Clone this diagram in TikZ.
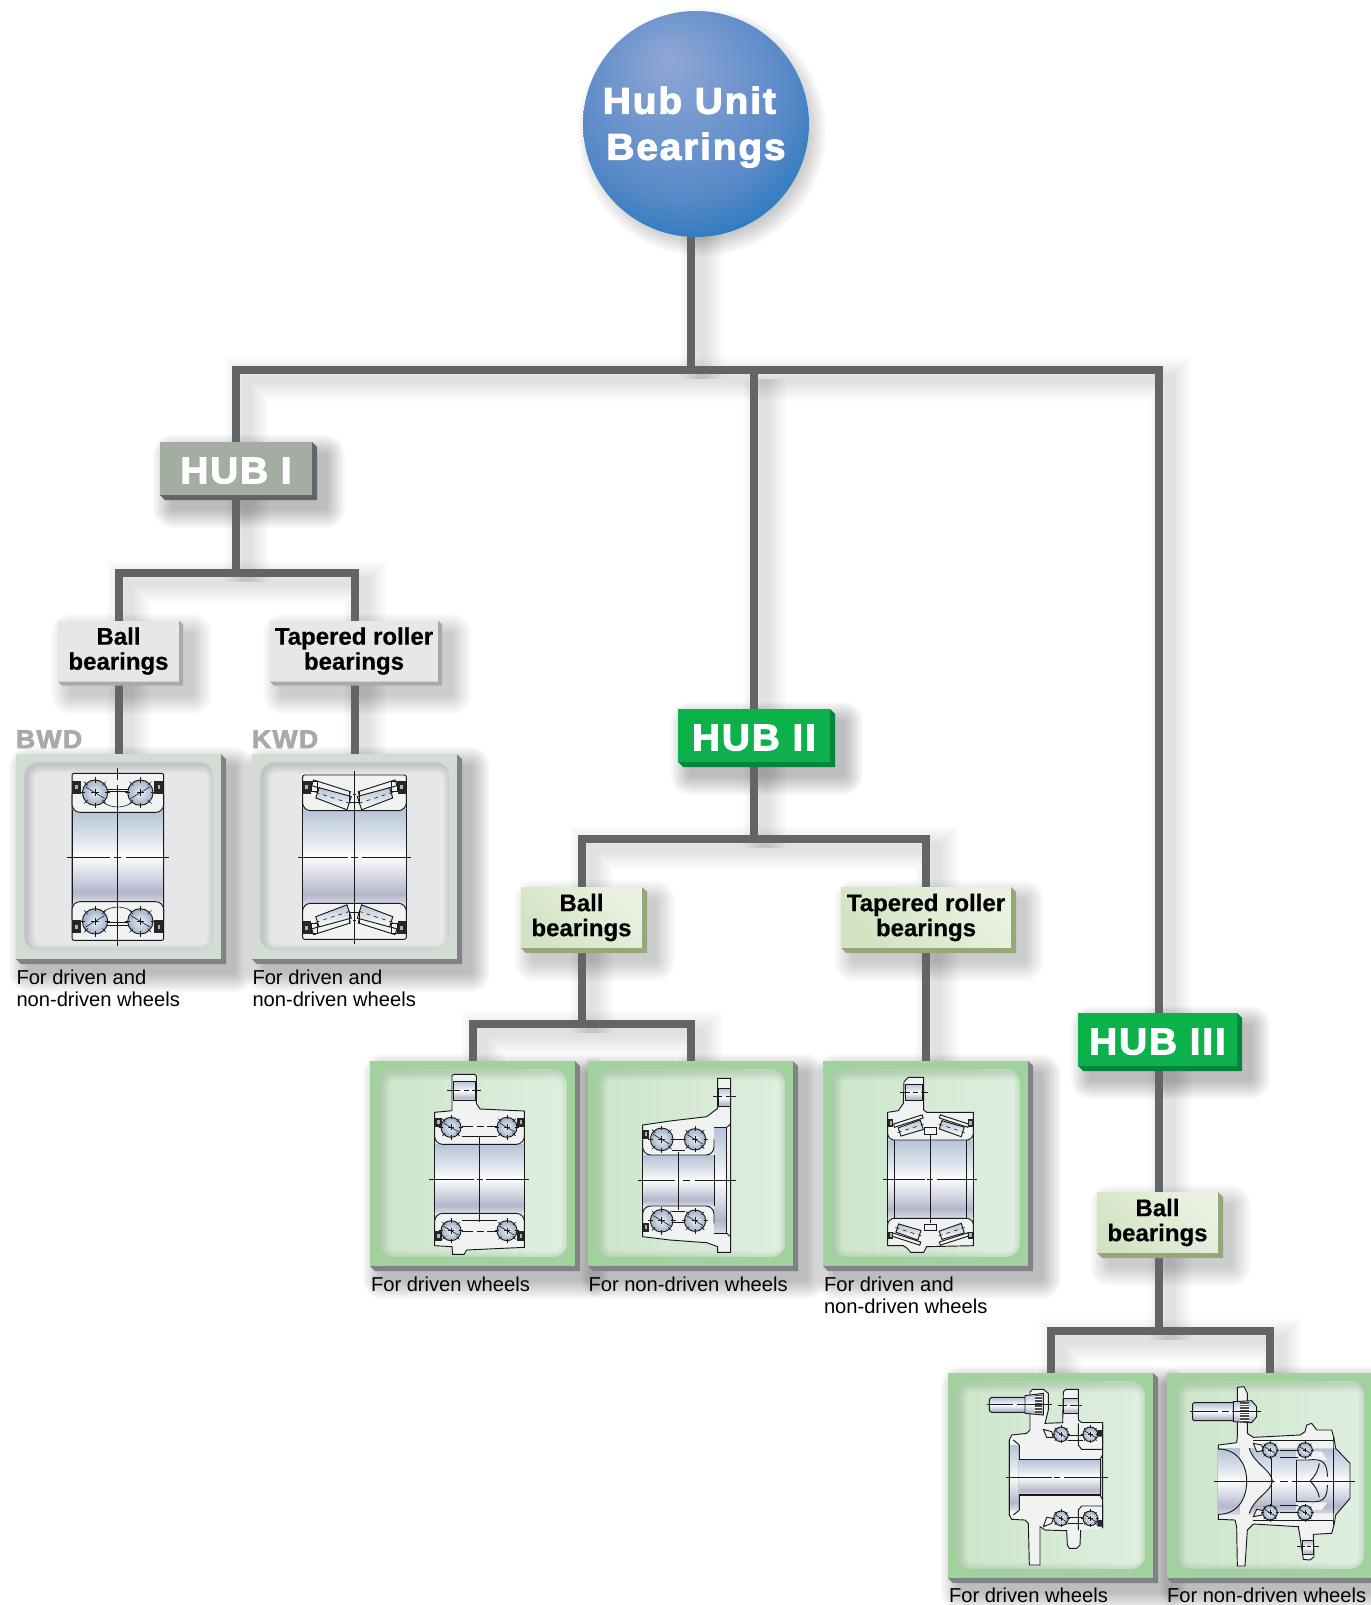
\documentclass[tikz,border=0pt]{standalone}
\usepackage{fontspec}
\setmainfont{Liberation Sans}
\newfontfamily\heavyfont[LetterSpace=5,BoldFeatures={FakeBold=2.8,FakeStretch=1.04}]{Liberation Sans}
\newfontfamily\lblfont[BoldFeatures={FakeBold=0.5}]{Liberation Sans}
\usetikzlibrary{calc}
\definecolor{connc}{HTML}{636466}
\definecolor{hubgray}{HTML}{A3ADA2}
\definecolor{hubgreen}{HTML}{0DB14B}
\definecolor{hubgreend}{HTML}{00863D}
\definecolor{lblgray}{HTML}{E6E7E9}
\definecolor{lblgrayd}{HTML}{A7A9AC}
\definecolor{lblgreend}{HTML}{94A878}
\definecolor{pgrayf}{HTML}{D1DDD3}
\definecolor{pgreenf}{HTML}{A1D29E}
\definecolor{pdepth}{HTML}{808285}
\definecolor{bodyc}{HTML}{F1F2F2}
\definecolor{ballc}{HTML}{9FB0C8}
\definecolor{ballh}{HTML}{EAF0F5}
\definecolor{bA}{HTML}{DDDDE6}\definecolor{bB}{HTML}{B2B6CB}\definecolor{bC}{HTML}{D6D9E4}
\definecolor{bD}{HTML}{FFFFFF}\definecolor{bE}{HTML}{F4F5F8}\definecolor{bF}{HTML}{DDE3EC}\definecolor{bG}{HTML}{B6C4D8}
\definecolor{rA}{HTML}{8FA7D6}\definecolor{rB}{HTML}{5889C8}\definecolor{rC}{HTML}{1B75BC}
\pgfdeclareverticalshading{borefill}{100bp}{color(0bp)=(bA); color(25bp)=(bA); color(31bp)=(bB); color(40bp)=(bC); color(51bp)=(bD); color(53bp)=(bE); color(60bp)=(bF); color(75bp)=(bG); color(100bp)=(bG)}
\pgfdeclareradialshading{rootfill}{\pgfpoint{-6.4bp}{14.8bp}}{color(0bp)=(rA); color(24bp)=(rB); color(35bp)=(rC); color(50bp)=(rC)}
\pgfdeclarelayer{shadowlayer}
\pgfdeclarelayer{connlayer}
\pgfsetlayers{shadowlayer,connlayer,main}
\def\px{0.75pt}
\definecolor{D2}{HTML}{D2E3C3}\definecolor{E2}{HTML}{EAF2E2}
\tikzset{
 conn/.style={draw=connc,line width=8*\px},
 hubbox/.style={rectangle,inner sep=0pt,outer sep=0pt,text=white,font=\heavyfont\bfseries\fontsize{28}{28}\selectfont,minimum height=53*\px,execute at begin node={\rule{0pt}{22.5pt}}},
 hubI/.style={hubbox,fill=hubgray,minimum width=152*\px},
 hubG/.style={hubbox,fill=hubgreen},
 lbl/.style={rectangle,inner sep=0pt,outer sep=0pt,align=center,text=black,minimum height=61*\px,font=\lblfont\bfseries\fontsize{18}{18.75}\selectfont,execute at begin node={\rule{0pt}{16pt}}},
 lblG/.style={lbl,fill=lblgray},
 lblV/.style={lbl,shade,shading=axis,bottom color=D2,top color=E2,shading angle=-45},
 panelbox/.style={rectangle,inner sep=0pt,outer sep=0pt,minimum width=205*\px,minimum height=205*\px},
 wheeltxt/.style={anchor=north west,inner sep=0pt,outer sep=0pt,align=left,text=black,font=\fontsize{15.1}{16.5}\selectfont},
 codetxt/.style={anchor=base west,inner sep=0pt,outer sep=0pt,text=lblgrayd,font=\heavyfont\bfseries\fontsize{19.2}{20}\selectfont},
 zoomed/.style 2 args={shift={(#1,#2)},x=.25pt,y=-.25pt},
 inkline/.style={draw=black!90,line width=.7pt},
 inkthin/.style={draw=black!90,line width=.45pt},
 inkthick/.style={draw=black!90,line width=1.1pt},
}
\newcommand\depth[3]{% name, size, colour
 \fill[#3] (#1.north east)--([shift={(#2,#2)}]#1.north east)--([shift={(#2,#2)}]#1.south east)--([shift={(#2,#2)}]#1.south west)--(#1.south west)--(#1.south east)--cycle;}
\newcommand\nodeshadow[2]{% name, opacity
 \begin{pgfonlayer}{shadowlayer}
 \foreach \i in {1,...,10}{
  \fill[black,opacity=#2,rounded corners=\i*1.5pt] ([shift={({13-\i*2},{13+\i*2})}]#1.south west) rectangle ([shift={({13+\i*2},{13-\i*2})}]#1.north east);}
 \end{pgfonlayer}}
\newcommand\conn[1]{%
 \begin{pgfonlayer}{shadowlayer}
 \foreach \w in {8,12,...,44}{
  \draw[black,opacity=.011,line width=\w*\px,transform canvas={xshift=8pt,yshift=-7pt}] #1;}
 \end{pgfonlayer}
 \begin{pgfonlayer}{connlayer}\draw[conn] #1;\end{pgfonlayer}}
\newcommand\panel[5]{% name,x,y,face,kind
 \node[panelbox,fill=#4] (#1) at (#2,#3) {};
 \depth{#1}{5}{pdepth}
 \nodeshadow{#1}{.026}
 \begin{scope}
  \clip[rounded corners=10.5pt] ([shift={(8,8)}]#1.north west) rectangle ([shift={(-8,-9)}]#1.south east);
  #5
  \foreach \w in {2,4,...,18}{
   \draw[rimc,opacity=.016,line width=\w*\px,rounded corners=10.5pt] ([shift={(10,10)}]#1.north west) rectangle ([shift={(-5,-6)}]#1.south east);}
 \end{scope}}
\newcommand\ball[3]{%
 \shade[inner color=ballh,outer color=ballc] (#1,#2) circle (#3);
 \draw[inkline] (#1,#2) circle (#3);
 \foreach \a in {0,45,...,315}{\draw[inkthin] (#1,#2) ++(\a:{#3*.8}) -- ++(\a:{#3*.42});}
 \draw[inkthin] (#1,#2) ++({-#3*.3},0) -- ++({#3*.6},0);
 \draw[inkthin] (#1,#2) ++(0,{-#3*.3}) -- ++(0,{#3*.6});
 \draw[inkthin] (#1,#2) ++({-#3*.75},{-#3*.45}) -- ++({#3*1.5},{#3*.9});}
\newcommand\sealblk[4]{%
 \fill[black!85] (#1,#2) rectangle (#3,#4);
 \fill[white!70!black] ({(#1+#3)/2-4},{(#2+#4)/2-7}) rectangle ({(#1+#3)/2+4},{(#2+#4)/2+5});}
\newcommand\roller[6]{%
 \begin{scope}[shift={(#1,#2)},rotate=#3]
 \shadedraw[inkline,top color=bG,bottom color=white] ({-#4/2},{-#5/2})--({#4/2},{-#6/2})--({#4/2},{#6/2})--({-#4/2},{#5/2})--cycle;
 \draw[inkthin,dashed] ({-#4/2-6},0)--({#4/2+6},0);
 \end{scope}}
\newcommand\fourway[1]{\foreach \sx/\sy in {1/1,-1/1,1/-1,-1/-1}{\begin{scope}[xscale=\sx,yscale=\sy]#1\end{scope}}}
\newcommand\bwdq{%
 \draw[inkthin] (-32,-204)--(0,-204) (-32,-197)--(0,-197);
 \draw[inkthin] (-48,-168)..controls (-35,-155) and (-15,-150)..(0,-150);
 \ball{-68}{-193}{38}
 \sealblk{-137}{-228}{-110}{-190}
}
\newcommand\kwdq{%
 \draw[inkline,fill=bodyc] (-122,-232)--(-12,-197)--(-16,-180)--(-128,-215)--cycle;
 \roller{-63}{-178}{-18}{100}{32}{42}
 \draw[inkline] (-130,-228) rectangle (-112,-198);
 \sealblk{-155}{-230}{-130}{-190}
 \draw[inkline] (-14,-197)--(-14,-165)--(0,-165);
 \draw[inkthin] (-4,-190)--(0,-190);
}
\begin{document}
\begin{tikzpicture}[x=\px,y=-\px]
\useasboundingbox (0,0) rectangle (1370,1605);
\begin{pgfonlayer}{shadowlayer}\fill[white] (0,0) rectangle (1370,1605);\end{pgfonlayer}

% ---------- root
\node[circle,inner sep=0pt,outer sep=0pt,minimum size=226*\px,shade,shading=rootfill,align=center,text=white,font=\heavyfont\bfseries\fontsize{28}{34.5}\selectfont] (root) at (696,124) {\rule{0pt}{25pt}\hspace*{-10pt}Hub Unit\\Bearings};
\begin{pgfonlayer}{shadowlayer}
\foreach \i in {1,...,10}{\fill[black,opacity=.026] ([shift={(6,8)}]root.center) circle ({98+\i*2.6});}
\end{pgfonlayer}

% ---------- hub boxes
\node[hubI] (hub1) at (236,468.5) {HUB I};
\depth{hub1}{5}{connc}\nodeshadow{hub1}{.026}
\node[hubG,minimum width=152*\px] (hub2) at (754,735.5) {HUB II};
\depth{hub2}{5}{hubgreend}\nodeshadow{hub2}{.026}
\node[hubG,minimum width=159*\px] (hub3) at (1157.5,1039.5) {HUB III};
\depth{hub3}{5}{hubgreend}\nodeshadow{hub3}{.026}

% ---------- label boxes
\node[lblG,minimum width=121*\px] (ball1) at (118.5,651) {Ball\\bearings};
\depth{ball1}{4}{lblgrayd}\nodeshadow{ball1}{.02}
\node[lblG,minimum width=168*\px] (tap1) at (354,651) {Tapered roller\\bearings};
\depth{tap1}{4}{lblgrayd}\nodeshadow{tap1}{.02}
\node[lblV,minimum width=121*\px] (ball2) at (581.5,917.5) {Ball\\bearings};
\depth{ball2}{5}{lblgreend}\nodeshadow{ball2}{.02}
\node[lblV,minimum width=170*\px] (tap2) at (926,917.5) {Tapered roller\\bearings};
\depth{tap2}{5}{lblgreend}\nodeshadow{tap2}{.02}
\node[lblV,minimum width=121*\px] (ball3) at (1157.5,1222.5) {Ball\\bearings};
\depth{ball3}{5}{lblgreend}\nodeshadow{ball3}{.02}

% ---------- panels: gray
\colorlet{rimc}{black}
\panel{pbwd}{118.5}{856.5}{pgrayf}{\fill[lblgray] (pbwd.south west) rectangle (pbwd.north east);}
\panel{pkwd}{354.5}{856.5}{pgrayf}{\fill[lblgray] (pkwd.south west) rectangle (pkwd.north east);}
% ---------- panels: green
\colorlet{rimc}{green!30!black}
\newcommand\grn[1]{\shade[left color=C1,right color=C2] (#1.south west) rectangle (#1.north east);}
\definecolor{C1}{HTML}{CBE5C9}\definecolor{C2}{HTML}{E0EFE1}
\panel{pdr2}{472.5}{1163.5}{pgreenf}{\grn{pdr2}}
\panel{pnd2}{690.5}{1163.5}{pgreenf}{\grn{pnd2}}
\panel{ptp2}{925.5}{1163.5}{pgreenf}{\grn{ptp2}}
\panel{pdr3}{1050.5}{1475.5}{pgreenf}{\grn{pdr3}}
\panel{pnd3}{1269.5}{1475.5}{pgreenf}{\grn{pnd3}}

% ---------- connectors
\coordinate (j0) at (691,370);
\coordinate (jr) at (1159,370);
\coordinate (jh1) at (236,573);
\coordinate (jh2) at (754,839);
\coordinate (jb2) at (581,1024);
\coordinate (jb3) at (1159,1331);
\conn{(j0 |- root.center) -- (j0)}
\conn{(hub1.center) -- (hub1.center |- j0) -- (jr) -- (jr |- hub3.center)}
\conn{(hub2.center |- j0) -- (hub2.center)}
\conn{(hub1.center) -- (jh1)}
\conn{(pbwd.center |- ball1.center) -- (pbwd.center |- jh1) -- (pkwd.center |- jh1) -- (pkwd.center |- tap1.center)}
\conn{(ball1.center -| pbwd.center) -- (pbwd.center)}
\conn{(tap1.center -| pkwd.center) -- (pkwd.center)}
\conn{(hub2.center) -- (jh2)}
\conn{(ball2.center) -- (ball2.center |- jh2) -- (tap2.center |- jh2) -- (tap2.center)}
\conn{(ball2.center) -- (ball2.center |- jb2)}
\conn{(pdr2.center) -- (pdr2.center |- jb2) -- (pnd2.center |- jb2) -- (pnd2.center)}
\conn{(tap2.center) -- (tap2.center |- ptp2.center)}
\conn{(jr |- hub3.center) -- (jr |- ball3.center)}
\conn{(jr |- ball3.center) -- (jb3)}
\conn{(pdr3.center) -- (pdr3.center |- jb3) -- (pnd3.center |- jb3) -- (pnd3.center)}

% ---------- texts
\node[codetxt] (tbwd) at (16,748) {BWD};
\node[codetxt] (tkwd) at (252,748) {KWD};
\node[wheeltxt] (w1) at (16.5,970) {For driven and\\non-driven wheels};
\node[wheeltxt] (w2) at (252.5,970) {For driven and\\non-driven wheels};
\node[wheeltxt] (w3) at (371,1277) {For driven wheels};
\node[wheeltxt] (w4) at (588.5,1277) {For non-driven wheels};
\node[wheeltxt] (w5) at (824,1277) {For driven and\\non-driven wheels};
\node[wheeltxt] (w6) at (949,1588) {For driven wheels};
\node[wheeltxt] (w7) at (1167,1588) {For non-driven wheels};

% ---------- BWD section
\begin{scope}[zoomed={117.7}{857}]
 \draw[inkline,fill=bodyc,rounded corners=1.5pt] (-137,-251) rectangle (138,250);
 \shade[shading=borefill] (-137,-140) rectangle (138,140);
 \draw[inkline] (-137,-140)--(-137,140) (138,-140)--(138,140);
 \draw[inkline,fill=bodyc,rounded corners=6pt] (-137,-190)--(-137,-134)--(138,-134)--(138,-190);
 \draw[inkline,fill=bodyc,rounded corners=6pt] (-137,190)--(-137,134)--(138,134)--(138,190);
 \fourway{\bwdq}
 \draw[inkline] (0,-266)--(0,-230) (0,-215)--(0,266);
 \draw[inkline] (-153,0)--(-23,0) (-11,0)--(9,0) (25,0)--(154,0);
\end{scope}
% ---------- KWD section
\begin{scope}[zoomed={354.3}{857.3}]
 \draw[inkline,fill=bodyc,rounded corners=1.5pt] (-155,-247) rectangle (156,246);
 \shade[shading=borefill] (-155,-145) rectangle (156,145);
 \draw[inkline] (-155,-145)--(-155,145) (156,-145)--(156,145);
 \draw[inkline,fill=bodyc,rounded corners=6pt] (-155,-190)--(-155,-140)--(156,-140)--(156,-190);
 \draw[inkline,fill=bodyc,rounded corners=6pt] (-155,190)--(-155,138)--(156,138)--(156,190);
 \fourway{\kwdq}
 \draw[inkline] (0,-260)--(0,260);
 \draw[inkline] (-168,0)--(-20,0) (-10,0)--(10,0) (22,0)--(170,0);
\end{scope}

% ---------- HUB II ball, driven
\begin{scope}[zoomed={360}{1050}]
 \draw[inkline,fill=bodyc] (224,187)--(276,182)--(276,78)--(281,73)--(344,73)--(349,78)--(349,160)--(360,177)--(493,183)--(493,592)--(320,600)--(312,613)--(278,613)--(276,590)--(224,587)--cycle;
 \shade[shading=borefill] (224,283) rectangle (493,490);
 \draw[inkline] (224,283)--(224,490) (493,283)--(493,490);
 \draw[inkline,fill=bodyc,rounded corners=6pt] (224,258)--(224,283)--(493,283)--(493,258);
 \draw[inkline,fill=bodyc,rounded corners=6pt] (224,515)--(224,490)--(493,490)--(493,515);
 \shadedraw[inkline,shading=borefill] (279,95) rectangle (347,150);
 \draw[inkline] (262,122)--(300,122) (312,122)--(326,122) (335,122)--(362,122);
 \draw[inkline] (305,228)--(340,228) (350,228)--(372,228) (382,228)--(410,228);
 \draw[inkline] (305,545)--(340,545) (350,545)--(372,545) (382,545)--(410,545);
 \draw[inkline] (305,260)--(410,260) (305,512)--(410,512);
 \sealblk{224}{203}{245}{232}\sealblk{472}{203}{493}{232}
 \sealblk{224}{543}{245}{572}\sealblk{472}{543}{493}{572}
 \ball{273}{232}{30}\ball{441}{232}{30}\ball{273}{542}{30}\ball{441}{542}{30}
 \draw[inkline] (358,262)--(358,515);
 \draw[inkline] (208,387)--(342,387) (350,387)--(368,387) (378,387)--(507,387);
\end{scope}

% ---------- HUB II ball, non-driven
\begin{scope}[zoomed={360}{1050}]
 \draw[inkline,fill=bodyc] (848,225)--(930,213)--(1040,200)--(1073,175)--(1073,85)--(1112,85)--(1112,607)--(1073,607)--(1073,590)--(1040,578)--(930,570)--(848,560)--cycle;
 \shade[shading=borefill] (1062,232) rectangle (1100,550);
 \draw[inkline] (1062,232)--(1100,232)--(1100,550)--(1062,550);
 \draw[inkline] (1100,232)--(1112,222) (1100,550)--(1112,560);
 \shade[shading=borefill] (848,315) rectangle (1062,468);
 \draw[inkline] (848,315)--(848,468) (1062,315)--(1062,468);
 \draw[inkline,fill=bodyc,rounded corners=6pt] (848,268)--(848,315)--(1062,315)--(1062,268);
 \draw[inkline,fill=bodyc,rounded corners=6pt] (848,515)--(848,468)--(1062,468)--(1062,520);
 \shadedraw[inkline,shading=borefill] (1076,115) rectangle (1110,170);
 \draw[inkline] (1060,140)--(1085,140) (1098,140)--(1128,140);
 \draw[inkline] (935,268)--(975,268) (935,300)--(975,300) (935,484)--(975,484) (935,516)--(975,516);
 \sealblk{848}{240}{868}{268}\sealblk{848}{518}{868}{546}
 \ball{905}{268}{34}\ball{1005}{268}{32}\ball{905}{512}{34}\ball{1005}{512}{32}
 \draw[inkline] (955,305)--(955,480);
 \draw[inkline] (833,392)--(945,392) (968,392)--(990,392) (1005,392)--(1128,392);
\end{scope}

% ---------- HUB II taper
\begin{scope}[zoomed={820}{1060}]
 \draw[inkline,fill=bodyc] (203,157)--(235,152)--(250,130)--(252,65)--(265,52)--(311,52)--(311,150)--(320,157)--(460,157)--(460,557)--(320,560)--(311,577)--(272,577)--(262,565)--(250,557)--(203,557)--cycle;
 \shade[shading=borefill] (203,240) rectangle (460,475);
 \draw[inkline] (203,240)--(203,475) (460,240)--(460,475) (222,240)--(222,475) (440,240)--(440,475);
 \draw[inkline,fill=bodyc,rounded corners=5pt] (203,215)--(203,240)--(460,240)--(460,215);
 \draw[inkline,fill=bodyc,rounded corners=5pt] (203,500)--(203,475)--(460,475)--(460,500);
 \shadedraw[inkline,shading=borefill] (255,72) rectangle (308,122);
 \draw[inkline] (240,98)--(270,98) (278,98)--(295,98) (303,98)--(325,98);
 \draw[inkline,fill=bodyc] (312,203) rectangle (350,222) (312,492) rectangle (350,510);
 \foreach \rx/\ry/\ra in {272/205/-18,395/205/18,265/515/18,395/515/-18}{
  \draw[inkline,fill=bodyc] (\rx,\ry) ++(\ra:-45) ++({90+\ra}:{\ry<300?-18:18}) -- ++(\ra:90) -- ++({90+\ra}:{\ry<300?-10:10}) -- ++(\ra:-90) -- cycle;
  \roller{\rx}{\ry}{\ifdim\ra pt<0pt 18\else -18\fi}{70}{26}{30}
 }
 \sealblk{205}{178}{220}{200}\sealblk{443}{178}{458}{200}
 \sealblk{205}{515}{220}{538}\sealblk{443}{515}{458}{538}
 \draw[inkline] (332,225)--(332,490);
 \draw[inkline] (190,357)--(315,357) (322,357)--(340,357) (352,357)--(472,357);
\end{scope}

% ---------- HUB III driven
\begin{scope}[zoomed={980}{1380}]
 \draw[inkline,fill=bodyc] (88,180)--(95,165)--(140,160)--(150,150)--(150,36)--(158,28)--(190,28)--(205,40)--(205,90)--(195,130)--(248,128)--(250,35)--(258,28)--(295,28)--(295,120)--(305,128)--(368,128)--(368,440)--(302,445)--(300,495)--(290,505)--(268,505)--(262,495)--(260,452)--(195,450)--(180,440)--(180,555)--(148,555)--(145,430)--(135,420)--(95,418)--(88,405)--cycle;
 \shade[shading=borefill] (88,195) rectangle (118,390);
 \draw[inkline] (88,180)--(88,405) (118,195)--(118,390) (100,180)--(118,195) (100,405)--(118,390);
 \shade[shading=borefill] (118,238) rectangle (362,345);
 \draw[inkthick] (118,238)--(360,238) (118,345)--(360,345);
 \draw[inkline] (360,238)--(368,225) (360,345)--(368,360) (362,238)--(362,345);
 \draw[inkline,fill=bodyc] (295,130)--(295,195)--(305,208)--(368,208)--(368,130);
 \draw[inkline,fill=bodyc] (295,450)--(295,390)--(305,378)--(368,378)--(368,445);
 \shade[shading=borefill] (30,52) rectangle (135,97);
 \draw[inkline] (135,52)--(35,52)--(28,58)--(28,92)--(35,97)--(135,97);
 \shadedraw[inkline,shading=borefill] (135,47)--(190,40)--(190,105)--(135,100)--cycle;
 \fill[black!70] (165,45) rectangle (185,100);
 \foreach \k in {50,58,...,95}{\draw[white,line width=.3pt] (165,\k)--(185,\k);}
 \shadedraw[inkline,shading=borefill] (250,55) rectangle (295,100);
 \draw[inkline] (20,72)--(100,72) (112,72)--(215,72) (235,77)--(262,77) (270,77)--(305,77);
 \draw[inkline] (265,165)--(310,165) (265,180)--(310,180);
 \draw[inkline] (265,412)--(310,412) (265,430)--(310,430);
 \draw[inkline,fill=bodyc] (190,148)--(215,155)--(220,172)--(200,172)--cycle;
 \draw[inkline,fill=bodyc] (190,440)--(215,430)--(220,415)--(200,412)--cycle;
 \fill[black!85] (352,150) rectangle (368,170) (352,420) rectangle (368,440);
 \ball{243}{163}{22}\ball{331}{163}{22}\ball{243}{415}{22}\ball{331}{415}{22}
 \draw[inkline] (77,291)--(215,291) (222,291)--(240,291) (252,291)--(385,291);
\end{scope}

% ---------- HUB III non-driven
\begin{scope}[zoomed={1190}{1380}]
 \def\outl{(142,22)--(162,20)--(172,40)--(172,160)--(190,172)--(330,165)--(345,155)--(350,135)--(365,130)--(380,150)--(425,150)--(432,175)--(437,205)--(480,250)--(480,355)--(437,405)--(432,435)--(425,460)--(370,463)--(372,530)--(360,540)--(340,538)--(335,505)--(330,470)--(325,440)--(190,432)--(172,450)--(165,558)--(142,558)--(140,440)--(135,420)--(85,418)--(85,195)--(140,188)--(142,170)--cycle}
 \fill[bodyc] \outl;
 \begin{scope}
  \clip \outl;
  \shade[shading=borefill] (85,205) rectangle (482,403);
 \end{scope}
 \draw[inkline] \outl;
 \fill[bodyc] (178,205) ..controls (190,250) and (245,270)..(247,303)..controls (245,335) and (190,355)..(178,400)--(150,420)--(150,190)--cycle;
 \draw[inkline] (178,205) ..controls (190,250) and (245,270)..(247,303)..controls (245,335) and (190,355)..(178,400);
 \shade[shading=borefill] (85,207) ..controls (140,207) and (170,250)..(170,303)..controls (170,360) and (140,403)..(85,403)--cycle;
 \draw[inkline] (85,207) ..controls (140,207) and (170,250)..(170,303)..controls (170,360) and (140,403)..(85,403);
 \draw[inkline] (190,182)--(430,182) (190,422)--(430,422) (430,172)--(430,435);
 \fill[bodyc] (190,182) rectangle (430,205) (190,400) rectangle (430,422);
 \draw[inkline] (190,182)--(430,182) (190,422)--(430,422);
 \fill[bodyc] (318,212)--(395,215)--(412,240)--(355,240)--(318,240)--cycle;
 \fill[bodyc] (318,392)--(395,390)--(412,368)--(355,365)--(318,365)--cycle;
 \draw[inkline] (318,240)--(318,365) (245,235)--(245,375);
 \draw[inkline] (318,240)--(355,240)..controls (395,235) and (412,245)..(412,290);
 \draw[inkline] (318,365)--(355,365)..controls (395,368) and (412,360)..(412,315);
 \draw[inkline] (360,303)..controls (375,290) and (385,270)..(388,250) (360,303)..controls (375,316) and (385,335)..(388,352);
 \draw[inkline] (270,210)--(325,210) (270,232)--(325,232) (270,375)--(325,375) (270,398)--(325,398);
 \draw[inkline,fill=bodyc] (190,190)--(215,195)--(220,212)--(200,215)--cycle;
 \draw[inkline,fill=bodyc] (190,410)--(215,405)--(220,392)--(200,388)--cycle;
 \ball{240}{210}{22}\ball{345}{210}{22}\ball{240}{398}{22}\ball{345}{398}{22}
 \shade[shading=borefill] (10,68) rectangle (130,122);
 \draw[inkline] (130,68)--(12,68)--(8,72)--(8,118)--(12,122)--(130,122);
 \shadedraw[inkline,shading=borefill] (130,65)--(185,62)--(200,80)--(200,110)--(185,128)--(130,125)--cycle;
 \fill[black!70] (150,65) rectangle (178,125);
 \foreach \k in {72,80,...,120}{\draw[white,line width=.3pt] (150,\k)--(178,\k);}
 \shadedraw[inkline,shading=borefill] (338,482) rectangle (370,522);
 \draw[inkline] (322,500)--(345,500) (352,500)--(362,500) (368,500)--(386,500);
 \draw[inkline] (0,94)--(85,94) (95,94)--(118,94) (125,94)--(212,94);
 \draw[inkline] (72,303)--(255,303) (270,303)--(295,303) (305,303)--(495,303);
\end{scope}
\end{tikzpicture}
\end{document}
